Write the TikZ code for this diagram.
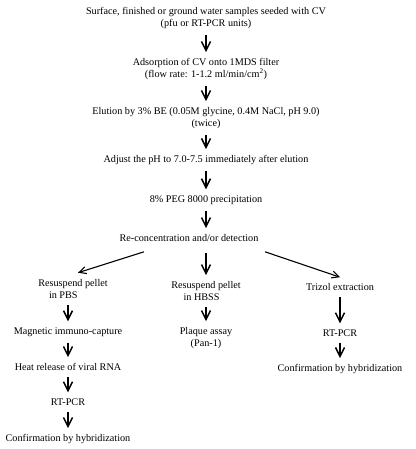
\documentclass[tikz,border=0pt]{standalone}
\usepackage{fontspec}
\setmainfont{Liberation Serif}
\usetikzlibrary{positioning, arrows.meta}

\begin{document}
\begin{tikzpicture}[node distance=40pt,on grid,
  every node/.style={font=\fontsize{10.2}{12}\selectfont, align=center, inner sep=4pt},
  down/.style={-{Straight Barb[length=9pt,width=9pt]}, line width=1.5pt, shorten <=2pt, shorten >=2pt},
  branch/.style={-{Straight Barb[length=7pt,width=7pt]}, line width=1.1pt}]

   \useasboundingbox (0,0) rectangle (415pt,-449pt);

   \node (samples) at (206pt,-18pt) {Surface, finished or ground water samples seeded with CV\\(pfu or RT-PCR units)};
   \node (adsorb)  [below=51pt of samples] {Adsorption of CV onto 1MDS filter\\(flow rate: 1-1.2 ml/min/cm\textsuperscript{2})};
   \node (elution) [below=49pt of adsorb] {Elution by 3\% BE (0.05M glycine, 0.4M NaCl, pH 9.0)\\(twice)};
   \node (adjust)  [below=42pt of elution] {Adjust the pH to 7.0-7.5 immediately after elution};
   \node (peg)     [below=40pt of adjust] {8\% PEG 8000 precipitation};
   \node (recon)   [below left=38pt and 17pt of peg] {Re-concentration and/or detection};

   % left branch
   \node[align=left] (pbs) [below left=51.5pt and 116pt of recon] {Resuspend pellet\\\hspace*{1.05em}in PBS};
   \node (magnetic) [below left=42.5pt and 5pt of pbs] {Magnetic immuno-capture};
   \node (heat)     [below=35pt of magnetic] {Heat release of viral RNA};
   \node (rtpcrL)   [below=35pt of heat] {RT-PCR};
   \node (confL)    [below=37pt of rtpcrL] {Confirmation by hybridization};

   % middle branch
   \node[align=left] (hbss) [below right=53pt and 17pt of recon] {Resuspend pellet\\\hspace*{1.2em}in HBSS};
   \node (plaque) [below=47pt of hbss] {Plaque assay\\(Pan-1)};

   % right branch
   \node (trizol) [below right=49pt and 151pt of recon] {Trizol extraction};
   \node (rtpcrR) [below=46pt of trizol] {RT-PCR};
   \node (confR)  [below=36pt of rtpcrR] {Confirmation by hybridization};

   \draw[down] (samples) -- (adsorb);
   \draw[down] (adsorb) -- (elution);
   \draw[down] (elution) -- (adjust);
   \draw[down] (adjust) -- (peg);
   \draw[down] (peg) -- (peg |- recon.north);

   \draw[branch] ([xshift=-45pt,yshift=-6pt]recon.south) -- ([xshift=5pt,yshift=3pt]pbs.north);
   \draw[down] ([yshift=-5pt]recon.south -| hbss) -- (hbss);
   \draw[branch] ([xshift=76pt,yshift=-6pt]recon.south) -- ([yshift=2pt]trizol.north);

   \draw[down] (magnetic |- pbs.south) -- (magnetic);
   \draw[down] (magnetic) -- (heat);
   \draw[down] (heat) -- (rtpcrL);
   \draw[down] (rtpcrL) -- (confL);

   \draw[down] (hbss) -- (plaque);

   \draw[down] (trizol) -- (rtpcrR);
   \draw[down] (rtpcrR) -- (confR);

\end{tikzpicture}
\end{document}
